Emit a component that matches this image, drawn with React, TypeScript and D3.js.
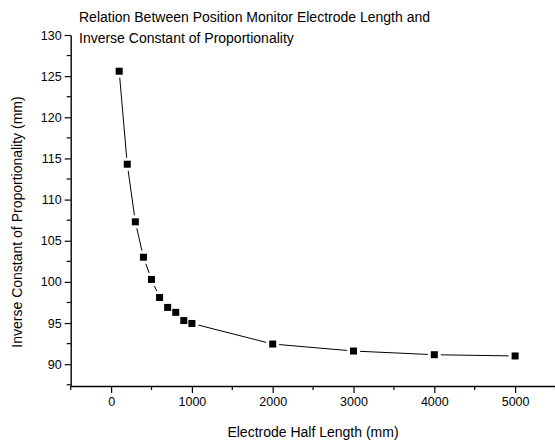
import React, { useRef, useEffect } from "react"
import * as d3 from "d3"

const halfLength = [100, 200, 300, 400, 500, 600, 700, 800, 900, 1000, 2000, 3000, 4000, 5000]
const inverseK = [125.6, 114.3, 107.3, 103.0, 100.3, 98.1, 96.9, 96.3, 95.3, 94.95, 92.45, 91.6, 91.15, 91.0]
const xTicks = [0, 1000, 2000, 3000, 4000, 5000]
const yTicks = [90, 95, 100, 105, 110, 115, 120, 125, 130]
const titleLines = ["Relation Between Position Monitor Electrode Length and", "Inverse Constant of Proportionality"]

const W = 555
const H = 445

const App: React.FunctionComponent = () => {
	const svgRef = useRef<any>()

	useEffect(() => {
		const svg = d3.select(svgRef.current)
		svg.selectAll("*").remove()

		const x = d3.scaleLinear().domain([-500, 5500]).range([70.7, 555.5])
		const y = d3.scaleLinear().domain([87.35, 130]).range([386, 35])
		const font = "'Liberation Sans', Arial, sans-serif"

		// minor ticks
		const xMinor = d3.range(-500, 5501, 500).filter((v) => v % 1000 !== 0)
		const yMinor = d3.range(87.5, 130, 2.5).filter((v) => v % 5 !== 0)

		const xAxis = d3
			.axisBottom(x)
			.tickValues(xTicks)
			.tickFormat(d3.format("d"))
			.tickSize(7)
			.tickPadding(4)
			.tickSizeOuter(0)
		const yAxis = d3.axisLeft(y).tickValues(yTicks).tickSize(6).tickPadding(3).tickSizeOuter(0)

		const gx = svg.append("g").attr("transform", `translate(0, ${y.range()[0]})`).call(xAxis)
		gx.selectAll("line").attr("stroke-width", 1.2)
		gx.select(".domain").attr("stroke-width", 1.4)
		gx.selectAll("text").attr("font-family", font).attr("font-size", 12.5).attr("fill", "#000")
		gx.selectAll(".minor")
			.data(xMinor)
			.join("line")
			.attr("x1", (d) => x(d))
			.attr("x2", (d) => x(d))
			.attr("y1", 0)
			.attr("y2", 4)
			.attr("stroke", "#000")
			.attr("stroke-width", 1.2)

		const gy = svg.append("g").attr("transform", `translate(${x.range()[0]}, 0)`).call(yAxis)
		gy.selectAll("line").attr("stroke-width", 1.2)
		gy.select(".domain").attr("stroke-width", 1.4)
		gy.selectAll("text").attr("font-family", font).attr("font-size", 12.5).attr("fill", "#000")
		gy.selectAll(".minor")
			.data(yMinor)
			.join("line")
			.attr("x1", 0)
			.attr("x2", -4)
			.attr("y1", (d) => y(d))
			.attr("y2", (d) => y(d))
			.attr("stroke", "#000")
			.attr("stroke-width", 1.2)

		const pts = halfLength.map((v, i) => [v, inverseK[i]] as [number, number])
		const line = d3
			.line<[number, number]>()
			.x((d) => x(d[0]))
			.y((d) => y(d[1]))

		svg.append("path")
			.attr("d", line(pts))
			.attr("fill", "none")
			.attr("stroke", "#000")
			.attr("stroke-width", 1)

		// white halo behind markers so the line stops short of them
		svg.selectAll(".halo")
			.data(pts)
			.join("rect")
			.attr("x", (d) => x(d[0]) - 6.5)
			.attr("y", (d) => y(d[1]) - 6.5)
			.attr("width", 13)
			.attr("height", 13)
			.attr("fill", "#fff")

		svg.selectAll(".marker")
			.data(pts)
			.join("rect")
			.attr("x", (d) => x(d[0]) - 3.5)
			.attr("y", (d) => y(d[1]) - 3.5)
			.attr("width", 7)
			.attr("height", 7)
			.attr("fill", "#000")

		svg.append("text")
			.attr("x", 313)
			.attr("y", 437)
			.attr("text-anchor", "middle")
			.attr("font-family", font)
			.attr("font-size", 14)
			.text("Electrode Half Length (mm)")

		svg.append("text")
			.attr("transform", `translate(22, 222) rotate(-90)`)
			.attr("text-anchor", "middle")
			.attr("font-family", font)
			.attr("font-size", 14)
			.text("Inverse Constant of Proportionality (mm)")

		svg.selectAll(".title")
			.data(titleLines)
			.join("text")
			.attr("x", 79)
			.attr("y", (d, i) => 22 + i * 21)
			.attr("font-family", font)
			.attr("font-size", 14)
			.text((d) => d)
	}, [])

	return (
		<div style={{ position: "fixed", left: 0, top: 0, width: W, height: H, background: "#fff" }}>
			<svg ref={svgRef} width={W} height={H}></svg>
		</div>
	)
}

export default App
